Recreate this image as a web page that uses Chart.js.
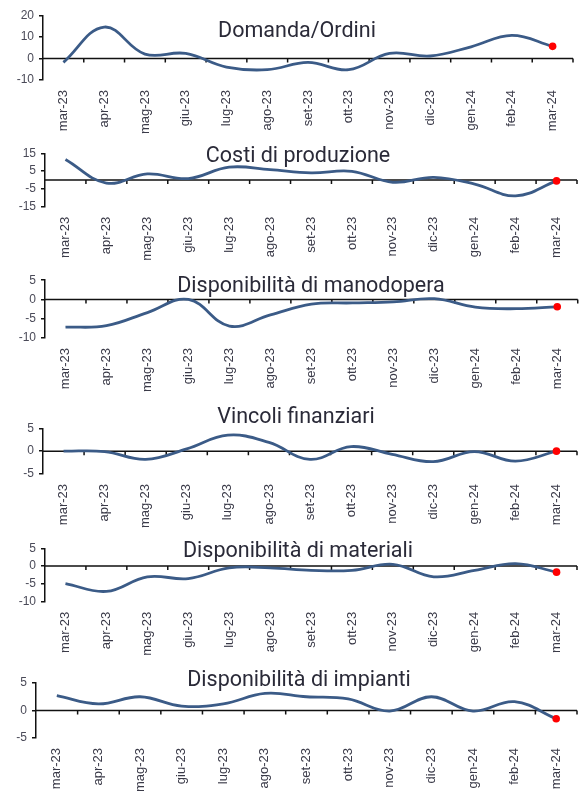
<!DOCTYPE html>
<html>
<head>
<meta charset="utf-8">
<script src="https://cdn.jsdelivr.net/npm/chart.js@4"></script>
<style>
body { margin: 0; background: #fff; }
#wrap { position: relative; width: 583px; height: 791px; overflow: hidden; }
#wrap canvas { position: absolute; left: 0; }
</style>
</head>
<body>
<div id="wrap"></div>
<script>
var months = ['mar-23', 'apr-23', 'mag-23', 'giu-23', 'lug-23', 'ago-23', 'set-23',
              'ott-23', 'nov-23', 'dic-23', 'gen-24', 'feb-24', 'mar-24'];

var domandaOrdini = [-1.8, 14.7, 2.1, 2.4, -4, -5.2, -1.8, -5.2, 2.4, 1.2, 5.5, 10.8, 5.7];
var costiProduzione = [11.5, -1.7, 3.4, 0.8, 7.2, 5.8, 4, 4.9, -1.3, 1.5, -2.3, -8.9, -0.5];
var manodopera = [-7.2, -6.8, -3.4, 0, -6.9, -4, -1.2, -0.9, -0.6, 0.2, -2, -2.4, -1.9];
var vincoliFinanziari = [0, -0.1, -1.8, 0.5, 3.5, 1.9, -1.8, 1.0, -0.7, -2.3, -0.1, -2.2, 0];
var materiali = [-4.9, -7.1, -3, -3.5, -0.5, -0.5, -1.2, -1.2, 0.5, -3, -1.2, 0.7, -1.7];
var impianti = [2.7, 1.2, 2.5, 0.8, 1.2, 3.1, 2.5, 2.1, -0.1, 2.5, -0.1, 1.6, -1.5];

var series = [domandaOrdini, costiProduzione, manodopera, vincoliFinanziari, materiali, impianti];
var titles = ['Domanda/Ordini', 'Costi di produzione', 'Disponibilità di manodopera',
              'Vincoli finanziari', 'Disponibilità di materiali', 'Disponibilità di impianti'];
var yMin = [-10, -15, -10, -5, -10, -5];
var yMax = [20, 15, 5, 5, 5, 5];
var yStep = [10, 10, 5, 5, 5, 5];

// where each little chart sits on the page
var panels = [
    { top: 0,   height: 140, plotTop: 15.7,  plotBottom: 80,    left: 43, right: 573, titleX: 297, titleY: 32 },
    { top: 140, height: 128, plotTop: 153.3, plotBottom: 206.7, left: 45, right: 577, titleX: 298, titleY: 157 },
    { top: 268, height: 132, plotTop: 280,   plotBottom: 338,   left: 45, right: 579, titleX: 311, titleY: 287 },
    { top: 400, height: 135, plotTop: 428.3, plotBottom: 474,   left: 43, right: 577, titleX: 296, titleY: 418 },
    { top: 535, height: 130, plotTop: 548.3, plotBottom: 601.7, left: 45, right: 577, titleX: 298, titleY: 552 },
    { top: 665, height: 126, plotTop: 683,   plotBottom: 738,   left: 36, right: 577, titleX: 299, titleY: 681 }
];

// Excel style axis through zero, with tick marks between months, plus the title
var zeroAxis = {
    id: 'zeroAxis',
    beforeDatasetsDraw: function (chart) {
        var ctx = chart.ctx;
        var area = chart.chartArea;
        var xs = chart.scales.x;
        var y0 = chart.scales.y.getPixelForValue(0);
        ctx.save();
        ctx.strokeStyle = '#111';
        ctx.lineWidth = 1.5;
        ctx.beginPath();
        ctx.moveTo(area.left, y0);
        ctx.lineTo(area.right, y0);
        for (var i = 1; i <= months.length; i++) {
            var px = i < months.length ? (xs.getPixelForValue(i - 1) + xs.getPixelForValue(i)) / 2 : area.right;
            ctx.moveTo(px, y0);
            ctx.lineTo(px, y0 + 4);
        }
        ctx.stroke();
        ctx.restore();
    },
    afterDraw: function (chart, args, opts) {
        var ctx = chart.ctx;
        ctx.save();
        ctx.font = '21.5px Roboto';
        ctx.fillStyle = '#2a2a38';
        ctx.textAlign = 'center';
        ctx.textBaseline = 'middle';
        ctx.fillText(opts.text, opts.x, opts.y);
        ctx.restore();
    }
};

function makePanel(n) {
    var p = panels[n];
    var canvas = document.createElement('canvas');
    canvas.width = 583;
    canvas.height = p.height;
    canvas.style.top = p.top + 'px';
    document.getElementById('wrap').appendChild(canvas);

    var last = months.length - 1;
    var config = {
        type: 'line',
        data: {
            labels: months,
            datasets: [{
                data: series[n],
                borderColor: '#3b5b87',
                borderWidth: 2.8,
                tension: 0.4,
                fill: false,
                pointRadius: months.map(function (m, i) { return i === last ? 3.8 : 0; }),
                pointBackgroundColor: '#ff0000',
                pointBorderWidth: 0
            }]
        },
        options: {
            responsive: false,
            animation: false,
            layout: {
                padding: { top: p.plotTop - p.top, right: 583 - p.right, left: 0, bottom: 0 }
            },
            plugins: {
                legend: { display: false },
                tooltip: { enabled: false },
                zeroAxis: { text: titles[n], x: p.titleX, y: p.titleY - p.top }
            },
            scales: {
                x: {
                    type: 'category',
                    offset: true,
                    grid: { display: false, drawTicks: false },
                    border: { display: false },
                    ticks: {
                        minRotation: 90,
                        maxRotation: 90,
                        autoSkip: false,
                        padding: 10,
                        color: '#3a3a48',
                        font: { family: "'Liberation Sans', Arial, sans-serif", size: 13 }
                    },
                    afterFit: function (scale) {
                        scale.height = p.top + p.height - p.plotBottom;
                    }
                },
                y: {
                    min: yMin[n],
                    max: yMax[n],
                    ticks: {
                        stepSize: yStep[n],
                        autoSkip: false,
                        padding: 5,
                        color: '#4a4a58',
                        font: { family: "'Liberation Sans', Arial, sans-serif", size: 12 }
                    },
                    grid: { drawOnChartArea: false, drawTicks: true, tickLength: 4, color: '#111', lineWidth: 1.5 },
                    border: { display: true, color: '#111', width: 1.5 },
                    afterFit: function (scale) {
                        scale.width = p.left;
                    }
                }
            }
        },
        plugins: [zeroAxis]
    };

    return new Chart(canvas.getContext('2d'), config);
}

for (var k = 0; k < panels.length; k++) {
    makePanel(k);
}
</script>
</body>
</html>
